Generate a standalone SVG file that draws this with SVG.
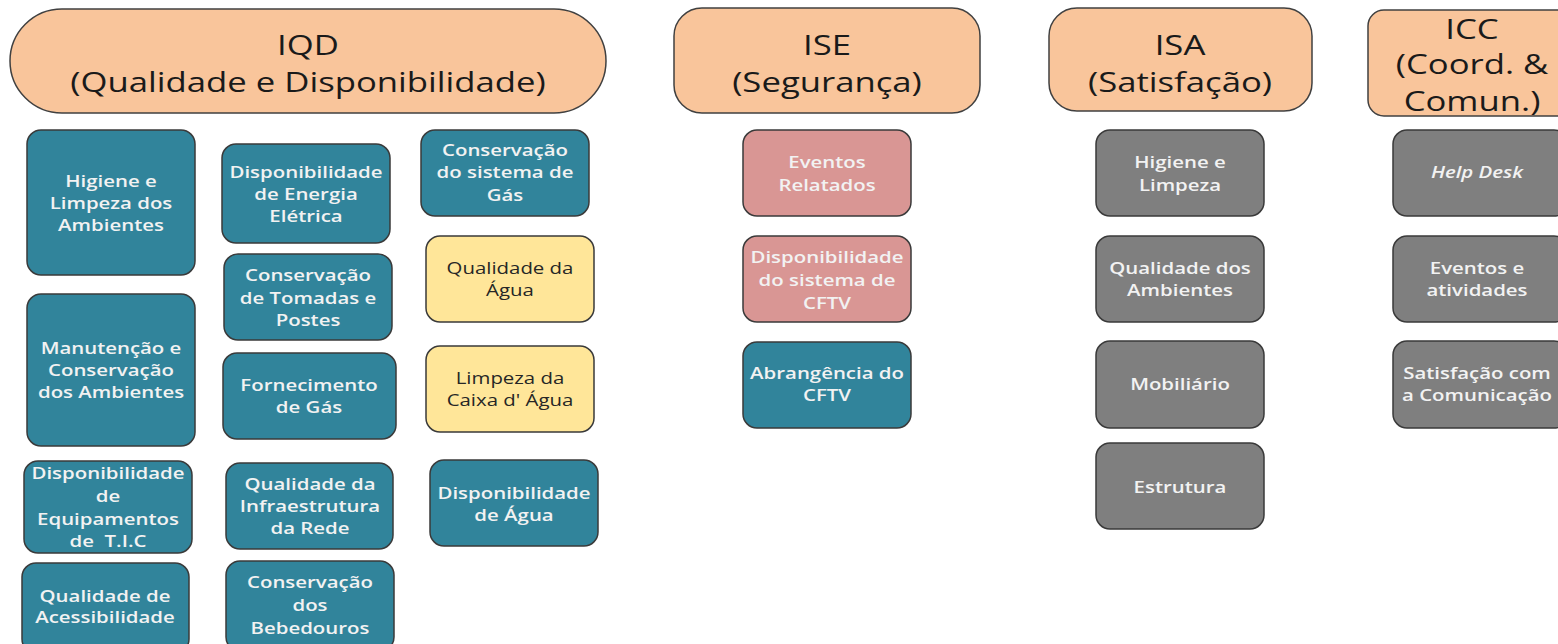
<svg xmlns="http://www.w3.org/2000/svg" width="1558" height="644" viewBox="0 0 1558 644">
<style>
.hdr{fill:#F9C59B;stroke:#404040;stroke-width:1.5}
.ht{font-family:"Open Sans","DejaVu Sans",sans-serif;font-size:28px;fill:#1a1a1a;text-anchor:middle}
.b{stroke:#3a3a3a;stroke-width:1.5}
.teal{fill:#31849B}
.gray{fill:#7F7F7F}
.pink{fill:#D99694}
.yel{fill:#FFE699}
.t{font-family:"Open Sans","DejaVu Sans",sans-serif;font-size:17px;font-weight:600;fill:#F2F2F2;text-anchor:middle}
.td{font-family:"Open Sans","DejaVu Sans",sans-serif;font-size:17px;fill:#262626;text-anchor:middle}
</style>
<rect width="1558" height="644" fill="#ffffff"/>
<g id="connectors"></g>

<g id="IQD"><rect class="hdr" x="10" y="9" width="596" height="104" rx="52"/>
<g transform="translate(308 0) scale(1.24 1)"><text class="ht" x="0" y="55">IQD</text><text class="ht" x="0" y="92">(Qualidade e Disponibilidade)</text></g></g>
<g id="ISE"><rect class="hdr" x="674" y="8" width="306" height="105" rx="28"/>
<g transform="translate(827 0) scale(1.24 1)"><text class="ht" x="0" y="55">ISE</text><text class="ht" x="0" y="92">(Segurança)</text></g></g>
<g id="ISA"><rect class="hdr" x="1049" y="8" width="263" height="103" rx="28"/>
<g transform="translate(1180 0) scale(1.24 1)"><text class="ht" x="0" y="55">ISA</text><text class="ht" x="0" y="92">(Satisfação)</text></g></g>
<g id="ICC"><rect class="hdr" x="1368" y="10" width="210" height="106" rx="16"/>
<g transform="translate(1472 0) scale(1.24 1)"><text class="ht" x="0" y="39">ICC</text><text class="ht" x="0" y="74">(Coord. &amp;</text><text class="ht" x="0" y="111">Comun.)</text></g></g>

<g id="n1"><rect class="b teal" x="27" y="130" width="168" height="145" rx="14"/>
<g transform="translate(111 0) scale(1.2 1)"><text class="t" x="0" y="187">Higiene e</text><text class="t" x="0" y="209">Limpeza dos</text><text class="t" x="0" y="231">Ambientes</text></g></g>
<g id="n2"><rect class="b teal" x="27" y="294" width="168" height="152" rx="14"/>
<g transform="translate(111 0) scale(1.2 1)"><text class="t" x="0" y="354">Manutenção e</text><text class="t" x="0" y="376">Conservação</text><text class="t" x="0" y="398">dos Ambientes</text></g></g>
<g id="n3"><rect class="b teal" x="24" y="461" width="168" height="92" rx="14"/>
<g transform="translate(108 0) scale(1.2 1)"><text class="t" x="0" y="479">Disponibilidade</text><text class="t" x="0" y="502">de</text><text class="t" x="0" y="525">Equipamentos</text><text class="t" x="0" y="547" xml:space="preserve">de  T.I.C</text></g></g>
<g id="n4"><rect class="b teal" x="22" y="563" width="167" height="90" rx="14"/>
<g transform="translate(105 0) scale(1.2 1)"><text class="t" x="0" y="602">Qualidade de</text><text class="t" x="0" y="623">Acessibilidade</text></g></g>

<g id="n5"><rect class="b teal" x="222" y="144" width="168" height="99" rx="14"/>
<g transform="translate(306 0) scale(1.2 1)"><text class="t" x="0" y="178">Disponibilidade</text><text class="t" x="0" y="200">de Energia</text><text class="t" x="0" y="222">Elétrica</text></g></g>
<g id="n6"><rect class="b teal" x="224" y="254" width="168" height="86" rx="14"/>
<g transform="translate(308 0) scale(1.2 1)"><text class="t" x="0" y="281">Conservação</text><text class="t" x="0" y="304">de Tomadas e</text><text class="t" x="0" y="326">Postes</text></g></g>
<g id="n7"><rect class="b teal" x="223" y="353" width="173" height="86" rx="14"/>
<g transform="translate(309 0) scale(1.2 1)"><text class="t" x="0" y="391">Fornecimento</text><text class="t" x="0" y="413">de Gás</text></g></g>
<g id="n8"><rect class="b teal" x="226" y="463" width="167" height="86" rx="14"/>
<g transform="translate(310 0) scale(1.2 1)"><text class="t" x="0" y="490">Qualidade da</text><text class="t" x="0" y="512">Infraestrutura</text><text class="t" x="0" y="534">da Rede</text></g></g>
<g id="n9"><rect class="b teal" x="226" y="561" width="168" height="90" rx="14"/>
<g transform="translate(310 0) scale(1.2 1)"><text class="t" x="0" y="588">Conservação</text><text class="t" x="0" y="611">dos</text><text class="t" x="0" y="634">Bebedouros</text></g></g>

<g id="n10"><rect class="b teal" x="421" y="130" width="168" height="86" rx="14"/>
<g transform="translate(505 0) scale(1.2 1)"><text class="t" x="0" y="156">Conservação</text><text class="t" x="0" y="178">do sistema de</text><text class="t" x="0" y="201">Gás</text></g></g>
<g id="n11"><rect class="b yel" x="426" y="236" width="168" height="86" rx="14"/>
<g transform="translate(510 0) scale(1.2 1)"><text class="td" x="0" y="274">Qualidade da</text><text class="td" x="0" y="296">Água</text></g></g>
<g id="n12"><rect class="b yel" x="426" y="346" width="168" height="86" rx="14"/>
<g transform="translate(510 0) scale(1.2 1)"><text class="td" x="0" y="384">Limpeza da</text><text class="td" x="0" y="406">Caixa d' Água</text></g></g>
<g id="n13"><rect class="b teal" x="430" y="460" width="168" height="86" rx="14"/>
<g transform="translate(514 0) scale(1.2 1)"><text class="t" x="0" y="499">Disponibilidade</text><text class="t" x="0" y="521">de Água</text></g></g>

<g id="n14"><rect class="b pink" x="743" y="130" width="168" height="86" rx="14"/>
<g transform="translate(827 0) scale(1.2 1)"><text class="t" x="0" y="168">Eventos</text><text class="t" x="0" y="191">Relatados</text></g></g>
<g id="n15"><rect class="b pink" x="743" y="236" width="168" height="86" rx="14"/>
<g transform="translate(827 0) scale(1.2 1)"><text class="t" x="0" y="263">Disponibilidade</text><text class="t" x="0" y="286">do sistema de</text><text class="t" x="0" y="309">CFTV</text></g></g>
<g id="n16"><rect class="b teal" x="743" y="342" width="168" height="86" rx="14"/>
<g transform="translate(827 0) scale(1.2 1)"><text class="t" x="0" y="379">Abrangência do</text><text class="t" x="0" y="401">CFTV</text></g></g>

<g id="n17"><rect class="b gray" x="1096" y="130" width="168" height="86" rx="14"/>
<g transform="translate(1180 0) scale(1.2 1)"><text class="t" x="0" y="168">Higiene e</text><text class="t" x="0" y="191">Limpeza</text></g></g>
<g id="n18"><rect class="b gray" x="1096" y="236" width="168" height="86" rx="14"/>
<g transform="translate(1180 0) scale(1.2 1)"><text class="t" x="0" y="274">Qualidade dos</text><text class="t" x="0" y="296">Ambientes</text></g></g>
<g id="n19"><rect class="b gray" x="1096" y="341" width="168" height="87" rx="14"/>
<g transform="translate(1180 0) scale(1.2 1)"><text class="t" x="0" y="390">Mobiliário</text></g></g>
<g id="n20"><rect class="b gray" x="1096" y="443" width="168" height="86" rx="14"/>
<g transform="translate(1180 0) scale(1.2 1)"><text class="t" x="0" y="493">Estrutura</text></g></g>

<g id="n21"><rect class="b gray" x="1393" y="130" width="175" height="86" rx="14"/>
<g transform="translate(1477 0) scale(1.2 1)"><text class="t" x="0" y="178" font-style="italic">Help Desk</text></g></g>
<g id="n22"><rect class="b gray" x="1393" y="236" width="175" height="86" rx="14"/>
<g transform="translate(1477 0) scale(1.2 1)"><text class="t" x="0" y="274">Eventos e</text><text class="t" x="0" y="296">atividades</text></g></g>
<g id="n23"><rect class="b gray" x="1393" y="341" width="175" height="87" rx="14"/>
<g transform="translate(1477 0) scale(1.2 1)"><text class="t" x="0" y="379">Satisfação com</text><text class="t" x="0" y="401">a Comunicação</text></g></g>
</svg>
